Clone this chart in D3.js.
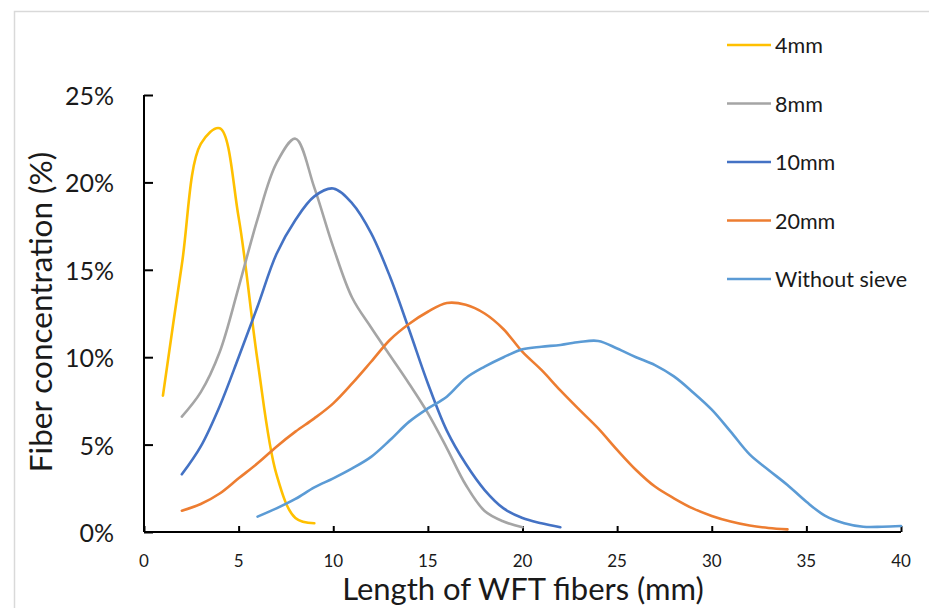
<!DOCTYPE html>
<html><head><meta charset="utf-8">
<script src="https://cdn.jsdelivr.net/npm/d3@7"></script>
<style>body{margin:0;background:#fff}svg{display:block}text{font-family:Lato,"Open Sans",sans-serif;fill:#1a1a1a}</style>
</head><body><svg id="c" width="929" height="608"></svg>
<script>
const seriesNames = ["4mm","8mm","10mm","20mm","Without sieve"];
const seriesColors = ["#FFC000","#A5A5A5","#4472C4","#ED7D31","#5B9BD5"];
const len4 = [1,2,3,4,5,6,7,8,9];
const val4 = [7.8,15.3,22.2,23.1,18.0,9.8,3.3,0.8,0.5];
const len8 = [2,3,4,5,6,7,8,9,10,11,12,13,14,15,16,17,18,19,20];
const val8 = [6.6,8.0,10.3,14.0,17.9,21.1,22.5,19.7,16.3,13.4,11.7,10.1,8.5,6.8,4.8,2.7,1.2,0.6,0.27];
const len10 = [2,3,4,5,6,7,8,9,10,11,12,13,14,15,16,17,18,19,20,21,22];
const val10 = [3.3,4.9,7.2,10.0,12.9,15.9,17.85,19.2,19.65,18.8,17.1,14.6,11.6,8.5,5.8,3.9,2.4,1.35,0.8,0.5,0.27];
const len20 = [2,3,4,5,6,7,8,9,10,11,12,13,14,15,16,17,18,19,20,21,22,23,24,25,26,27,28,29,30,31,32,33,34];
const val20 = [1.22,1.6,2.2,3.07,3.93,4.88,5.74,6.5,7.36,8.5,9.74,11.0,11.9,12.6,13.1,13.0,12.5,11.6,10.3,9.27,8.1,7.0,5.93,4.7,3.55,2.6,1.93,1.35,0.92,0.6,0.37,0.23,0.15];
const lenW = [6,7,8,9,10,11,12,13,14,15,16,17,18,19,20,21,22,23,24,25,26,27,28,29,30,31,32,33,34,35,36,37,38,39,40];
const valW = [0.88,1.35,1.89,2.55,3.07,3.64,4.3,5.26,6.3,7.07,7.74,8.8,9.46,10.0,10.45,10.6,10.7,10.87,10.93,10.5,10.0,9.55,8.9,8.0,7.0,5.74,4.44,3.55,2.69,1.73,0.92,0.5,0.3,0.3,0.34];
const xTicks = [0,5,10,15,20,25,30,35,40];
const yTicks = [0,5,10,15,20,25];
const xTitle = "Length of WFT fibers (mm)";
const yTitle = "Fiber concentration (%)";

const seriesX = [len4,len8,len10,len20,lenW];
const seriesY = [val4,val8,val10,val20,valW];

const svg = d3.select("#c");
svg.append("rect").attr("x",14.5).attr("y",11.5).attr("width",960).attr("height",700)
  .attr("fill","none").attr("stroke","#d9d9d9").attr("stroke-width",1.5);

const x = d3.scaleLinear().domain([0,40]).range([144,901]);
const y = d3.scaleLinear().domain([0,25]).range([532,95]);

// y axis
const ya = svg.append("g").attr("transform","translate(144,0)")
  .call(d3.axisRight(y).tickValues(yTicks).tickSize(9).tickFormat(""));
ya.select(".domain").attr("d","M0,95V532").attr("stroke","#000").attr("stroke-width",2);
ya.selectAll(".tick line").attr("stroke","#000").attr("stroke-width",2);
svg.append("g").selectAll("text").data(yTicks).join("text")
  .attr("x",114).attr("y",d=>y(d)).attr("text-anchor","end").attr("dominant-baseline","central")
  .attr("font-size",25).text(d=>d+"%");

// x axis
const xa = svg.append("g").attr("transform","translate(0,532)")
  .call(d3.axisTop(x).tickValues(xTicks).tickSize(6).tickFormat(""));
xa.select(".domain").attr("d","M144,0H901").attr("stroke","#000").attr("stroke-width",2);
xa.selectAll(".tick line").attr("stroke","#000").attr("stroke-width",2);
svg.append("g").selectAll("text").data(xTicks).join("text")
  .attr("x",d=>x(d)).attr("y",560).attr("text-anchor","middle").attr("dominant-baseline","central")
  .attr("font-size",17).text(d=>d);

// titles
svg.append("text").attr("x",523).attr("y",600).attr("text-anchor","middle")
  .attr("font-size",31).text(xTitle);
svg.append("text").attr("transform","translate(52,312) rotate(-90)").attr("text-anchor","middle")
  .attr("font-size",31.5).text(yTitle);

// lines
const line = d3.line().curve(d3.curveCatmullRom.alpha(0.5));
seriesNames.forEach((n,i)=>{
  const pts = seriesX[i].map((v,j)=>[x(v),y(seriesY[i][j])]);
  svg.append("path").attr("d",line(pts)).attr("fill","none")
    .attr("stroke",seriesColors[i]).attr("stroke-width",2.6).attr("stroke-linejoin","round").attr("stroke-linecap","round");
});

// legend
const legY = d3.scalePoint().domain(seriesNames).range([45,279]);
const lg = svg.append("g");
seriesNames.forEach((n,i)=>{
  lg.append("line").attr("x1",727).attr("x2",771).attr("y1",legY(n)).attr("y2",legY(n))
    .attr("stroke",seriesColors[i]).attr("stroke-width",2.6);
  lg.append("text").attr("x",775).attr("y",legY(n)).attr("dominant-baseline","central")
    .attr("font-size",21.5).text(n);
});
</script></body></html>
